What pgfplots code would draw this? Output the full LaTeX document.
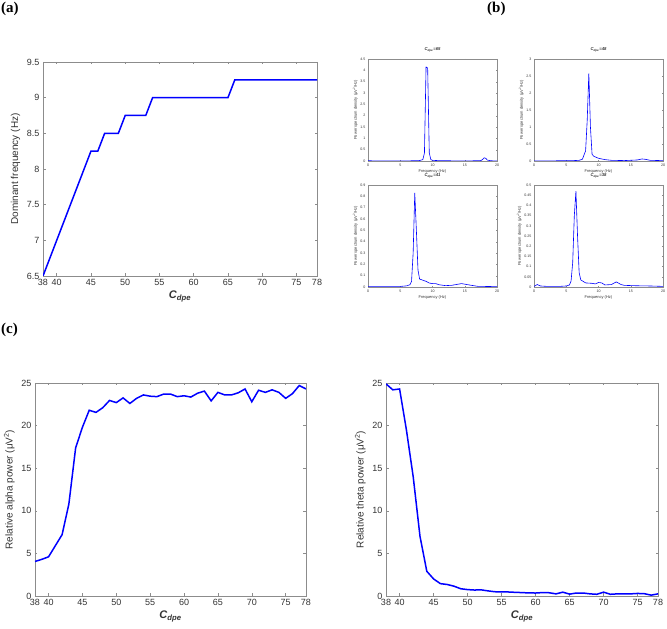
\documentclass[border=0pt]{standalone}
\usepackage{pgfplots}
\pgfplotsset{compat=1.18}
\usepackage{fontspec}
\setmainfont{Liberation Sans}
\newfontfamily\serifb{Liberation Serif}
\definecolor{axgray}{gray}{0.55}
\definecolor{txt}{gray}{0.2}
\definecolor{mblue}{rgb}{0,0,1}
\newcommand{\Cdpe}{\textbf{\textit{C}}\textsubscript{\textbf{\textit{dpe}}}}
\pgfplotsset{
  big/.style={
    scale only axis, anchor=south west,
    axis line style={axgray, line width=0.6pt},
    every tick/.style={axgray, line width=0.5pt},
    major tick length=2.5pt,
    tick align=inside,
    ticklabel style={font=\fontsize{9}{10}\selectfont, text=txt},
    label style={font=\fontsize{10}{11}\selectfont, text=txt},
    /pgf/number format/assume math mode=true,
    /pgf/number format/fixed,
    xmin=38, xmax=78,
    xtick={38,40,45,50,55,60,65,70,75,78},
    xlabel={\fontsize{11}{12}\selectfont\Cdpe},
    xlabel style={yshift=2pt},
  },
  small/.style={
    scale only axis, anchor=south west,
    width=129pt, height=102pt,
    axis line style={axgray, line width=0.4pt},
    every tick/.style={axgray, line width=0.3pt},
    major tick length=1.3pt,
    tick align=inside,
    ticklabel style={font=\fontsize{3.6}{4}\selectfont, text=txt},
    label style={font=\fontsize{4}{4.5}\selectfont, text=txt},
    title style={font=\fontsize{4.2}{4.5}\selectfont\bfseries\itshape, text=txt, yshift=-3pt},
    /pgf/number format/assume math mode=true,
    /pgf/number format/fixed,
    xmin=0, xmax=20, ymin=0,
    xtick={0,5,10,15,20},
    xlabel={Frequency (Hz)},
    ylabel={Power spectrum density (μV\textsuperscript{2}/Hz)},
    xlabel style={yshift=3pt},
    ylabel style={yshift=-4pt},
    yticklabel style={xshift=1pt},
    xticklabel style={yshift=1pt},
  }
}
\begin{document}
\begin{tikzpicture}[x=1pt,y=1pt]
\useasboundingbox (0,0) rectangle (667,629);
\node[anchor=north west, inner sep=0pt, font=\serifb\fontsize{15}{16}\selectfont\bfseries] at (1,627) {(a)};
\node[anchor=north west, inner sep=0pt, font=\serifb\fontsize{15}{16}\selectfont\bfseries] at (487,627) {(b)};
\node[anchor=north west, inner sep=0pt, font=\serifb\fontsize{15}{16}\selectfont\bfseries] at (1,306) {(c)};

% (a)
\begin{axis}[big, at={(43pt,353pt)}, width=274pt, height=214pt,
  ymin=6.5, ymax=9.5, ytick={6.5,7,7.5,8,8.5,9,9.5},
  yticklabels={6.5,7,7.5,8,8.5,9,9.5},
  ylabel={Dominant frequency (Hz)}]
\addplot[mblue, line width=1.5pt] coordinates {
(38,6.5) (45,8.25) (46,8.25) (47,8.5) (49,8.5) (50,8.75) (53,8.75) (54,9) (65,9) (66,9.25) (78,9.25)};
\end{axis}

% (b) TL
\begin{axis}[small, at={(368pt,468pt)}, ymax=4.5, ytick={0,0.5,...,4.5},
  title={C\textsubscript{dpe}=65}]
\addplot[mblue, line width=0.6pt] coordinates {
(0,0.01) (2,0.005) (4,0.005) (6,0.006) (7,0.01) (8,0.02) (8.5,0.06) (8.75,0.35) (9,4.15) (9.25,4.1) (9.5,0.35) (9.75,0.06) (10,0.03) (11,0.015) (13,0.008) (16,0.006) (17.5,0.02) (17.75,0.06) (18,0.14) (18.25,0.12) (18.5,0.04) (19,0.01) (20,0.005)};
\end{axis}

% (b) TR
\begin{axis}[small, at={(534pt,468pt)}, ymax=3, ytick={0,0.5,...,3},
  title={C\textsubscript{dpe}=48}]
\addplot[mblue, line width=0.6pt] coordinates {
(0,0.005) (3,0.005) (6,0.01) (7,0.02) (7.5,0.05) (8,0.3) (8.25,1.2) (8.5,2.58) (8.75,1.0) (9,0.2) (9.25,0.14) (9.5,0.12) (10,0.08) (11,0.04) (12,0.02) (14,0.012) (16,0.03) (16.75,0.06) (17.25,0.05) (18,0.02) (20,0.01)};
\end{axis}

% (b) BL
\begin{axis}[small, at={(368pt,342pt)}, ymax=0.9, ytick={0,0.1,...,0.9},
  title={C\textsubscript{dpe}=41}]
\addplot[mblue, line width=0.6pt] coordinates {
(0,0.005) (3,0.005) (5,0.005) (6,0.01) (6.5,0.02) (6.75,0.05) (7,0.3) (7.25,0.83) (7.5,0.5) (7.75,0.15) (8,0.07) (8.5,0.06) (9,0.05) (9.5,0.035) (10,0.03) (10.5,0.03) (11,0.02) (12,0.012) (13,0.015) (14,0.025) (14.5,0.03) (15,0.025) (16,0.015) (17,0.006) (20,0.003)};
\end{axis}

% (b) BR
\begin{axis}[small, at={(534pt,342pt)}, ymax=0.5, ytick={0,0.05,...,0.5},
  title={C\textsubscript{dpe}=38}]
\addplot[mblue, line width=0.6pt] coordinates {
(0,0.003) (0.5,0.012) (1,0.005) (2,0.003) (4,0.003) (5,0.005) (5.5,0.01) (5.75,0.03) (6,0.12) (6.25,0.35) (6.5,0.47) (6.75,0.25) (7,0.07) (7.25,0.035) (7.5,0.03) (8,0.02) (9,0.018) (9.5,0.015) (10,0.022) (10.5,0.02) (11,0.01) (12,0.012) (12.75,0.025) (13.5,0.012) (14,0.008) (16,0.006) (18,0.005) (20,0.003)};
\end{axis}

% (c) left
\begin{axis}[big, at={(35pt,33pt)}, width=271pt, height=213pt,
  ymin=0, ymax=25, ytick={0,5,...,25},
  ylabel={Relative alpha power (μV\textsuperscript{2})}]
\addplot[mblue, line width=1.5pt] coordinates {
(38,4.05) (39,4.3) (40,4.6) (41,5.9) (42,7.2) (43,10.8) (44,17.4) (45,19.8) (46,21.8) (47,21.55) (48,22.1) (49,22.95) (50,22.7) (51,23.25) (52,22.6) (53,23.2) (54,23.6) (55,23.45) (56,23.4) (57,23.7) (58,23.7) (59,23.4) (60,23.5) (61,23.35) (62,23.8) (63,24.05) (64,22.9) (65,23.9) (66,23.6) (67,23.6) (68,23.85) (69,24.3) (70,22.8) (71,24.15) (72,23.9) (73,24.2) (74,23.9) (75,23.2) (76,23.75) (77,24.7) (78,24.3)};
\end{axis}

% (c) right
\begin{axis}[big, at={(386pt,33pt)}, width=272pt, height=213pt,
  ymin=0, ymax=25, ytick={0,5,...,25},
  ylabel={Relative theta power (μV\textsuperscript{2})}]
\addplot[mblue, line width=1.5pt] coordinates {
(38,24.9) (39,24.2) (40,24.3) (41,19.5) (42,14) (43,7) (44,2.9) (45,2.0) (46,1.45) (47,1.35) (48,1.15) (49,0.85) (50,0.75) (51,0.7) (52,0.72) (53,0.6) (54,0.5) (55,0.48) (56,0.47) (57,0.43) (58,0.4) (59,0.36) (60,0.35) (61,0.4) (62,0.38) (63,0.25) (64,0.45) (65,0.22) (66,0.35) (67,0.35) (68,0.25) (69,0.2) (70,0.45) (71,0.2) (72,0.25) (73,0.25) (74,0.25) (75,0.3) (76,0.27) (77,0.1) (78,0.25)};
\end{axis}
\end{tikzpicture}
\end{document}
